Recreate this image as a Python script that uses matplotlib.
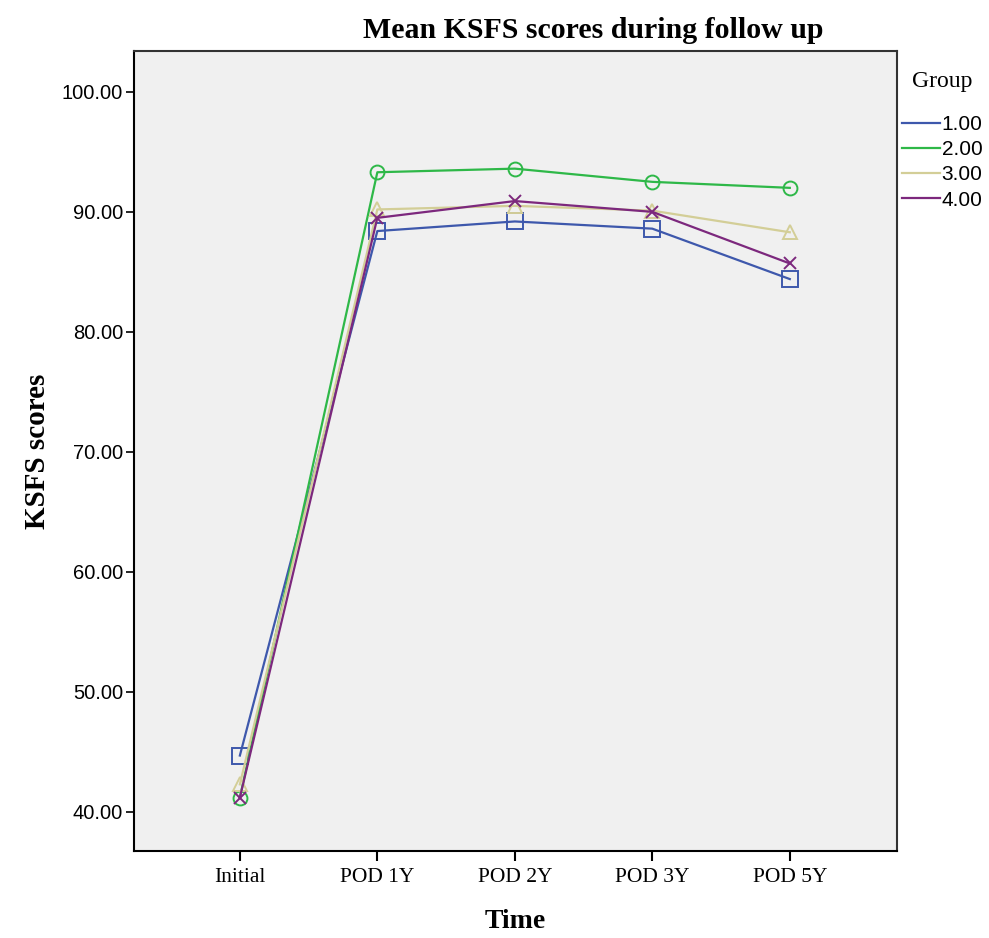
import matplotlib
matplotlib.use("Agg")
import matplotlib.pyplot as plt

time_points = ["Initial", "POD 1Y", "POD 2Y", "POD 3Y", "POD 5Y"]
groups = ["1.00", "2.00", "3.00", "4.00"]
group1 = [44.7, 88.4, 89.2, 88.6, 84.4]
group2 = [41.2, 93.3, 93.6, 92.5, 92.0]
group3 = [42.3, 90.2, 90.5, 90.1, 88.3]
group4 = [41.2, 89.5, 90.9, 90.0, 85.7]
series = [group1, group2, group3, group4]
colors = ["#3E58AC", "#2EB848", "#D3CE97", "#7C287D"]
markers = ["s", "o", "^", "x"]
yticks = [40, 50, 60, 70, 80, 90, 100]

fig = plt.figure(figsize=(9.89, 9.38), dpi=100)
ax = fig.add_axes([0.1355, 0.0928, 0.7715, 0.8528])
ax.set_facecolor("#F0F0F0")
x = list(range(len(time_points)))
handles = []
for vals, c, m, g in zip(series, colors, markers, groups):
    ax.plot(x, vals, color=c, lw=1.6, marker=m, markersize=11 if m == "s" else (9 if m == "x" else 10),
            markerfacecolor="none", markeredgecolor=c, markeredgewidth=1.4, zorder=3)
    h, = ax.plot([], [], color=c, lw=1.6, label=g)
    handles.append(h)

ax.set_xlim(-0.77, 4.78)
ax.set_ylim(36.75, 103.4)
ax.set_xticks(x)
ax.set_xticklabels(time_points, fontfamily="Liberation Serif", fontsize=15.5)
ax.set_yticks(yticks)
ax.set_yticklabels([f"{v:.2f}" for v in yticks], fontfamily="Liberation Sans", fontsize=14.5)
ax.tick_params(axis="y", length=6, width=1.2, pad=2)
ax.tick_params(axis="x", length=7, width=1.5, pad=5)
for s in ax.spines.values():
    s.set_linewidth(1.5)
    s.set_color("#333333")
ax.spines["left"].set_color("black")
ax.spines["bottom"].set_color("black")

ax.set_ylabel("KSFS scores", fontfamily="Liberation Serif", fontweight="bold", fontsize=21, labelpad=8)
ax.set_xlabel("Time", fontfamily="Liberation Serif", fontweight="bold", fontsize=20, labelpad=16)
fig.text(0.6, 0.968, "Mean KSFS scores during follow up", ha="center", va="center",
         fontfamily="Liberation Serif", fontweight="bold", fontsize=21.5)

fig.text(942 / 989, 1 - 82 / 938, "Group", ha="center", va="center",
         fontfamily="Liberation Serif", fontsize=17)
leg = fig.legend(handles=handles, loc="upper left", bbox_to_anchor=(902 / 989, 1 - 115 / 938),
                 frameon=False, prop={"family": "Liberation Sans", "size": 15},
                 handlelength=1.8, handletextpad=0.1, labelspacing=0.3, borderpad=0,
                 borderaxespad=0)

fig.savefig("out.png", dpi=100)
